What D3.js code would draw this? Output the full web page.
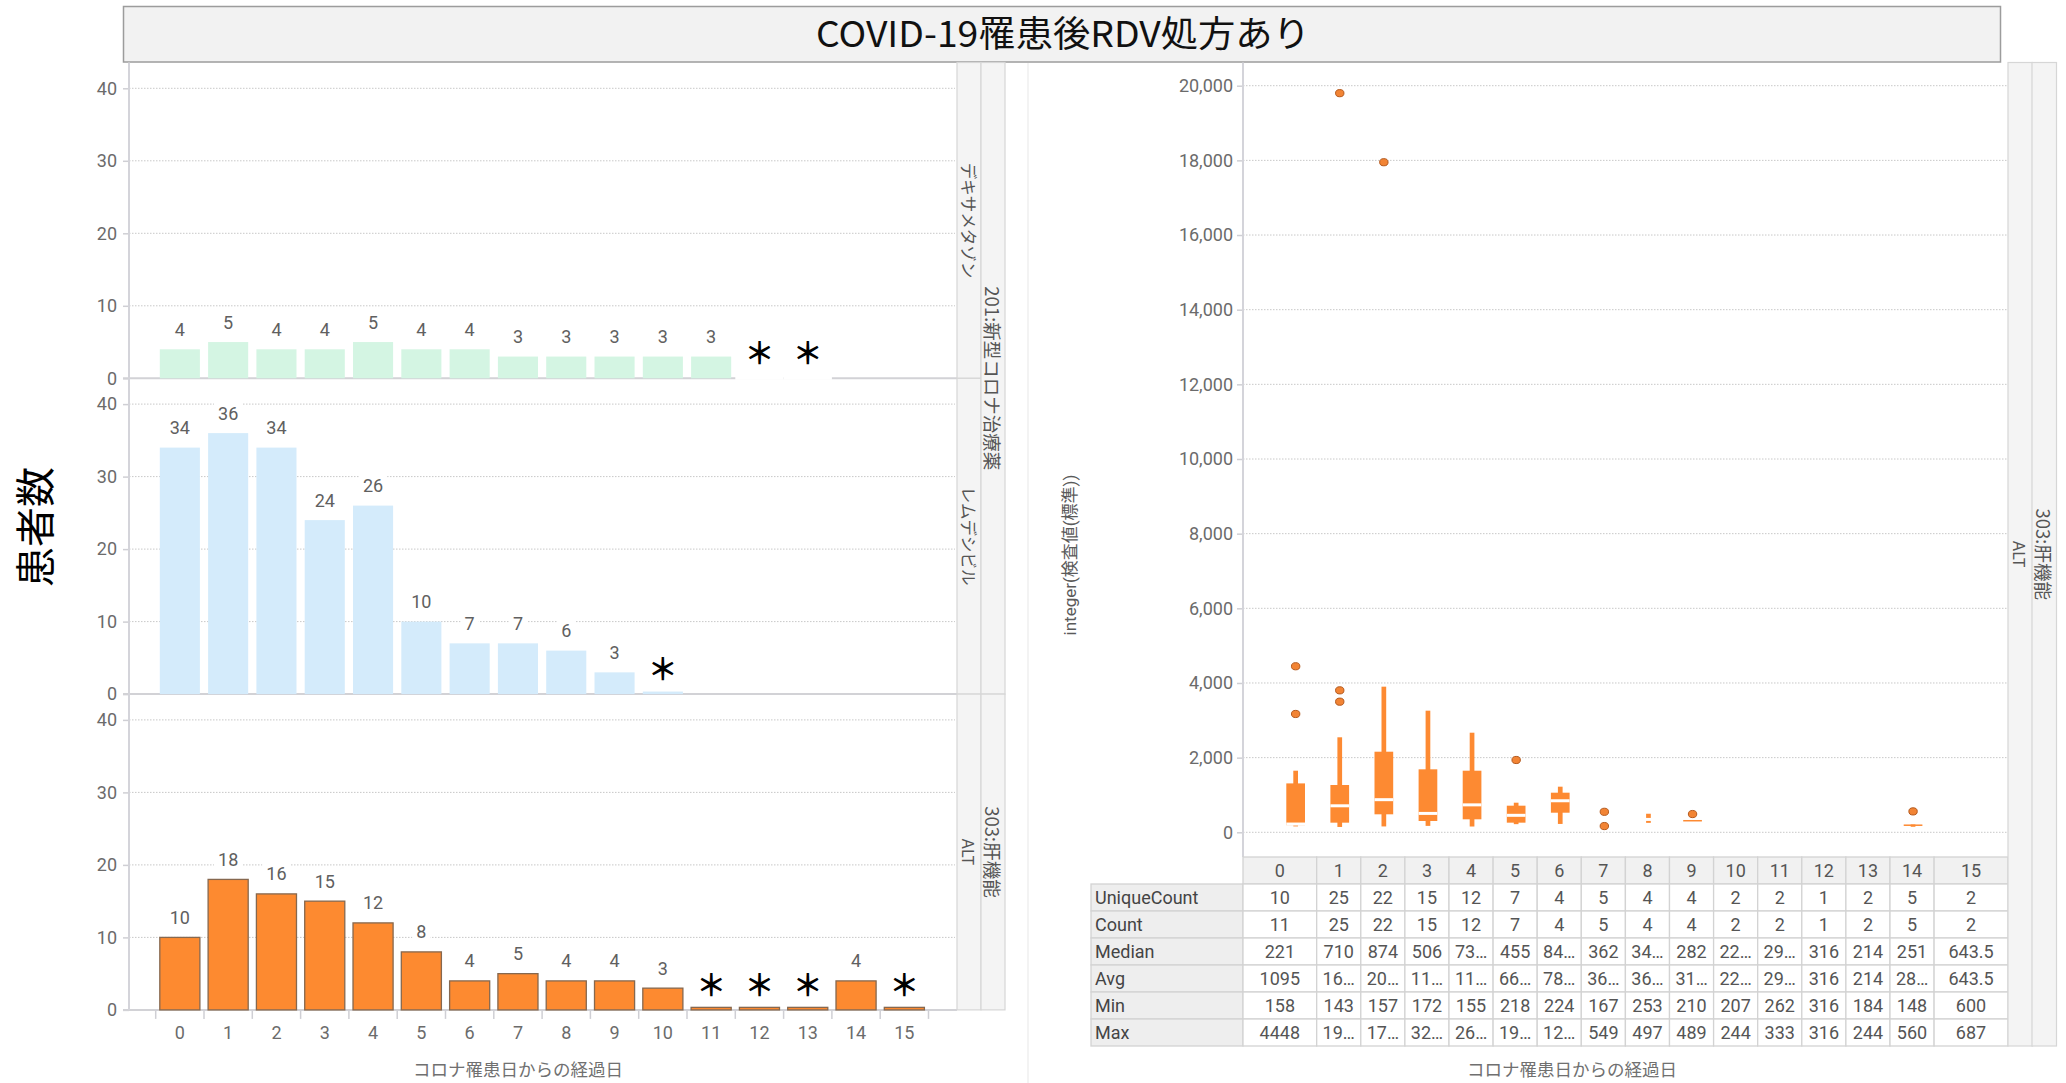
<!DOCTYPE html>
<html>
<head>
<meta charset="utf-8">
<script src="https://cdn.jsdelivr.net/npm/d3@7"></script>
<style>
  body { margin: 0; background: #fff; }
  svg { display: block; }
</style>
</head>
<body>
<script>
// ---- data ---------------------------------------------------------------
const chartTitle = "COVID-19罹患後RDV処方あり";
const dayLabels = ["0","1","2","3","4","5","6","7","8","9","10","11","12","13","14","15"];
const countTicks = [0, 10, 20, 30, 40];
const labTicks = [0, 2000, 4000, 6000, 8000, 10000, 12000, 14000, 16000, 18000, 20000];

// patients per day since infection (null = masked small count, shown as ＊)
const dexamethasonePatients = [4, 5, 4, 4, 5, 4, 4, 3, 3, 3, 3, 3, null, null];
const remdesivirPatients    = [34, 36, 34, 24, 26, 10, 7, 7, 6, 3, null];
const altPatients           = [10, 18, 16, 15, 12, 8, 4, 5, 4, 4, 3, null, null, null, 4, null];

const drugGroup = "201:新型コロナ治療薬";
const liverGroup = "303:肝機能";
const panelNames = ["デキサメタゾン", "レムデシビル", "ALT"];

// ALT box plot summary per day
const boxQ1      = [190, 258, 482, 303, 348, 258, 525, null, null, 290, null, null, null, null, 185, null];
const boxMedian  = [221, 710, 874, 506, 735, 455, 845, 362, 345, 282, 225, 295, 316, 214, 251, 643.5];
const boxQ3      = [1310, 1267, 2159, 1687, 1650, 713, 1061, null, null, 330, null, null, null, null, 210, null];
const whiskerLow = [158, 143, 157, 172, 155, 218, 224, null, 253, null, null, null, null, null, 148, null];
const whiskerHigh= [1650, 2545, 3901, 3258, 2668, 793, 1222, null, 497, null, null, null, null, null, 210, null];
const outliers   = [[3170, 4448], [3499, 3803, 19800], [17950], [], [], [1937], [], [167, 549], [], [489], [], [], [], [], [560], []];

// statistics table
const statNames   = ["UniqueCount", "Count", "Median", "Avg", "Min", "Max"];
const uniqueCounts= ["10","25","22","15","12","7","4","5","4","4","2","2","1","2","5","2"];
const counts      = ["11","25","22","15","12","7","4","5","4","4","2","2","1","2","5","2"];
const medians     = ["221","710","874","506","73…","455","84…","362","34…","282","22…","29…","316","214","251","643.5"];
const averages    = ["1095","16…","20…","11…","11…","66…","78…","36…","36…","31…","22…","29…","316","214","28…","643.5"];
const minimums    = ["158","143","157","172","155","218","224","167","253","210","207","262","316","184","148","600"];
const maximums    = ["4448","19…","17…","32…","26…","19…","12…","549","497","489","244","333","316","244","560","687"];

const yTitleLeft = "患者数";
const yTitleRight = "integer(検査値(標準))";
const xTitle = "コロナ罹患日からの経過日";

// ---- drawing ------------------------------------------------------------
const FONT = "Roboto, 'Noto Sans CJK JP', sans-serif";
const JP = "'Noto Sans CJK JP', sans-serif";
const GRID = "#c8c8c8", AXIS = "#d4d4da", TICKTXT = "#6b6b6b";

const svg = d3.select("body").append("svg")
  .attr("width", 2066).attr("height", 1083)
  .style("font-family", FONT);

// faint divider between the two halves
svg.append("line").attr("x1", 1028).attr("x2", 1028).attr("y1", 63).attr("y2", 1083)
  .attr("stroke", "#efefef").attr("stroke-width", 1.5);

// title bar
svg.append("rect").attr("x", 123.5).attr("y", 6.5).attr("width", 1877).attr("height", 55.5)
  .attr("fill", "#f2f2f2").attr("stroke", "#9c9c9c").attr("stroke-width", 1.5);
svg.append("text").attr("x", 1063).attr("y", 46.5).attr("text-anchor", "middle")
  .attr("font-family", JP).attr("font-size", 36).attr("fill", "#111")
  .attr("textLength", 494).attr("lengthAdjust", "spacingAndGlyphs")
  .text(chartTitle);

// ---------------- left: patient counts -----------------
const L = { axisX: 129, right: 955, stripIn: 957, stripOut: 981, stripW: 24, base0: 378.3, pitch: 315.8, span: 290 };
const xL = d3.scaleBand().domain(dayLabels).range([155.7, 928.5]).paddingInner(0.17).paddingOuter(0.085);
const stepL = xL.step();

const panels = [
  { values: dexamethasonePatients, name: panelNames[0], fill: "#d4f5e3", stroke: "none", stub: false },
  { values: remdesivirPatients,    name: panelNames[1], fill: "#d4ebfb", stroke: "none", stub: true },
  { values: altPatients,           name: panelNames[2], fill: "#fd8a30", stroke: "#86684f", stub: true }
];
const MASK_STUB = 0.35;

panels.forEach((p, i) => {
  const y0 = L.base0 + i * L.pitch;
  const y = d3.scaleLinear().domain([0, 40]).range([y0, y0 - L.span]);
  const g = svg.append("g");

  // dotted gridlines
  g.selectAll("line.grid").data(countTicks.filter(t => t > 0)).join("line")
    .attr("x1", L.axisX).attr("x2", L.right)
    .attr("y1", d => y(d)).attr("y2", d => y(d))
    .attr("stroke", GRID).attr("stroke-dasharray", "1.5,1.5");

  // y axis ticks + labels
  const ax = g.append("g").attr("transform", `translate(${L.axisX},0)`)
    .call(d3.axisLeft(y).tickValues(countTicks).tickSize(6).tickPadding(6));
  ax.select(".domain").remove();
  ax.selectAll(".tick line").attr("stroke", "#cfcfd4").attr("stroke-width", 1.5);
  ax.selectAll(".tick text").attr("fill", TICKTXT).attr("font-size", 18).attr("font-family", FONT);

  // baseline
  g.append("line").attr("x1", L.axisX - 6).attr("x2", L.stripIn).attr("y1", y0).attr("y2", y0)
    .attr("stroke", "#d2d2d6").attr("stroke-width", 2);

  const rows = p.values.map((v, k) => ({ day: dayLabels[k], v }));
  const bgLayer = g.append("g");
  const barLayer = g.append("g");
  const txtLayer = g.append("g");

  barLayer.selectAll("rect").data(rows.filter(d => d.v !== null || p.stub)).join("rect")
    .attr("x", d => xL(d.day)).attr("width", xL.bandwidth())
    .attr("y", d => y(d.v === null ? MASK_STUB : d.v))
    .attr("height", d => y0 - y(d.v === null ? MASK_STUB : d.v))
    .attr("fill", p.fill)
    .attr("stroke", p.stroke).attr("stroke-width", p.stroke === "none" ? 0 : 1.3);

  rows.forEach(d => {
    const cx = xL(d.day) + xL.bandwidth() / 2;
    let t;
    if (d.v !== null) {
      t = txtLayer.append("text").attr("x", cx).attr("y", y(d.v) - 13.5)
        .attr("text-anchor", "middle").attr("font-size", 18).attr("fill", "#606060")
        .text(d.v);
    } else {
      t = txtLayer.append("text").attr("x", cx).attr("y", y0 - 27)
        .attr("text-anchor", "middle").attr("dominant-baseline", "central")
        .attr("font-family", JP).attr("font-size", 30).attr("font-weight", 700).attr("fill", "#000")
        .text("＊");
    }
    const b = t.node().getBBox();
    if (d.v === null && !p.stub) {
      const bx = xL(d.day) - stepL * 0.085;
      bgLayer.append("rect").attr("x", bx).attr("width", stepL)
        .attr("y", b.y - 2).attr("height", y0 + 1.5 - (b.y - 2)).attr("fill", "#fff");
    } else {
      bgLayer.append("rect").attr("x", b.x - 4).attr("y", b.y - 2)
        .attr("width", b.width + 8).attr("height", b.height + 4).attr("fill", "#fff");
    }
  });

  // inner strip
  const top = y0 - L.pitch;
  svg.append("rect").attr("x", L.stripIn).attr("y", top).attr("width", L.stripW).attr("height", L.pitch)
    .attr("fill", "#f4f4f4").attr("stroke", "#d6d6d6").attr("stroke-width", 1.2);
  svg.append("text").attr("transform", `translate(${L.stripIn + L.stripW / 2},${top + L.pitch / 2}) rotate(90)`)
    .attr("text-anchor", "middle").attr("dominant-baseline", "central")
    .attr("font-family", JP).attr("font-size", 16.5).attr("fill", "#555").text(p.name);
});

// outer strips
const outerStrips = [
  { label: drugGroup, from: 0, to: 2 },
  { label: liverGroup, from: 2, to: 3 }
];
outerStrips.forEach(s => {
  const y1 = L.base0 - L.pitch + s.from * L.pitch, h = (s.to - s.from) * L.pitch;
  svg.append("rect").attr("x", L.stripOut).attr("y", y1).attr("width", L.stripW).attr("height", h)
    .attr("fill", "#f4f4f4").attr("stroke", "#d6d6d6").attr("stroke-width", 1.2);
  svg.append("text").attr("transform", `translate(${L.stripOut + L.stripW / 2},${y1 + h / 2}) rotate(90)`)
    .attr("text-anchor", "middle").attr("dominant-baseline", "central")
    .attr("font-family", JP).attr("font-size", 18.5).attr("fill", "#555").text(s.label);
});

// left y axis line
const baseBottom = L.base0 + 2 * L.pitch;
svg.append("line").attr("x1", L.axisX).attr("x2", L.axisX).attr("y1", 62.5).attr("y2", baseBottom)
  .attr("stroke", AXIS).attr("stroke-width", 2);

// bottom x axis: boundary ticks and centred labels
svg.append("g").selectAll("line").data(d3.range(dayLabels.length + 1)).join("line")
  .attr("x1", i => xL.range()[0] + i * stepL).attr("x2", i => xL.range()[0] + i * stepL)
  .attr("y1", baseBottom).attr("y2", baseBottom + 9)
  .attr("stroke", "#cfcfd4").attr("stroke-width", 1.5);
const xAx = svg.append("g").attr("transform", `translate(0,${baseBottom})`)
  .call(d3.axisBottom(xL).tickSize(0).tickPadding(16));
xAx.select(".domain").remove();
xAx.selectAll(".tick text").attr("fill", TICKTXT).attr("font-size", 18).attr("font-family", FONT);

svg.append("text").attr("x", 518).attr("y", 1068).attr("text-anchor", "middle")
  .attr("dominant-baseline", "central").attr("font-family", JP).attr("font-size", 17.5)
  .attr("fill", "#707070").text(xTitle);

svg.append("text").attr("transform", "translate(33,527) rotate(-90)")
  .attr("text-anchor", "middle").attr("dominant-baseline", "central")
  .attr("font-family", JP).attr("font-size", 40).attr("fill", "#000").text(yTitleLeft);

// ---------------- right: ALT box plots -----------------
const R = { axisX: 1243, right: 2008, top: 62.5, bottom: 857, stripIn: 2008, stripOut: 2032, stripW: 24.5, tableBottom: 1046 };
const yR = d3.scaleLinear().domain([0, 20000]).range([832.3, 85.7]);
const xR = d3.scaleBand().domain(dayLabels).range([1273.6, 1979.2]).padding(0);
const cxR = d => xR(d) + xR.bandwidth() / 2;

svg.append("g").selectAll("line").data(labTicks).join("line")
  .attr("x1", R.axisX).attr("x2", R.right)
  .attr("y1", d => yR(d)).attr("y2", d => yR(d))
  .attr("stroke", GRID).attr("stroke-dasharray", "1.5,1.5");

const axR = svg.append("g").attr("transform", `translate(${R.axisX},0)`)
  .call(d3.axisLeft(yR).tickValues(labTicks).tickFormat(d3.format(",")).tickSize(6).tickPadding(4));
axR.select(".domain").remove();
axR.selectAll(".tick line").attr("stroke", "#cfcfd4").attr("stroke-width", 1.5);
axR.selectAll(".tick text").attr("fill", TICKTXT).attr("font-size", 18).attr("font-family", FONT);

svg.append("line").attr("x1", R.axisX).attr("x2", R.axisX).attr("y1", R.top).attr("y2", R.bottom)
  .attr("stroke", AXIS).attr("stroke-width", 2);

const BOX_W = 18.7, WHISK_W = 4.7, ORANGE = "#fd8a32";
const boxLayer = svg.append("g");
dayLabels.forEach((d, i) => {
  const cx = cxR(d);
  if (whiskerLow[i] !== null && whiskerHigh[i] !== null) {
    boxLayer.append("rect").attr("x", cx - WHISK_W / 2).attr("width", WHISK_W)
      .attr("y", yR(whiskerHigh[i])).attr("height", Math.max(1, yR(whiskerLow[i]) - yR(whiskerHigh[i])))
      .attr("fill", ORANGE);
  }
  if (boxQ1[i] !== null && boxQ3[i] !== null) {
    boxLayer.append("rect").attr("x", cx - BOX_W / 2).attr("width", BOX_W)
      .attr("y", yR(boxQ3[i])).attr("height", Math.max(1.5, yR(boxQ1[i]) - yR(boxQ3[i])))
      .attr("fill", ORANGE);
  }
  const spanLo = boxQ1[i] !== null ? boxQ1[i] : whiskerLow[i];
  const spanHi = boxQ3[i] !== null ? boxQ3[i] : whiskerHigh[i];
  if (spanLo !== null && spanHi !== null && yR(spanLo) - yR(spanHi) > 6) {
    boxLayer.append("rect").attr("x", cx - BOX_W / 2).attr("width", BOX_W)
      .attr("y", yR(boxMedian[i]) - 1.5).attr("height", 3).attr("fill", "#fff");
  }
  outliers[i].forEach(v => {
    boxLayer.append("ellipse").attr("cx", cx).attr("cy", yR(v)).attr("rx", 4.2).attr("ry", 3.6)
      .attr("fill", "#f28434").attr("stroke", "#b4591d").attr("stroke-width", 1);
  });
});

// statistics table under the plot
const colW = dayLabels.map((d, i) => (i === 0 ? 73.7 : i === dayLabels.length - 1 ? 73.9 : 44.1));
const colX = [];
colW.reduce((acc, w) => { colX.push(acc); return acc + w; }, R.axisX);
const rowH = 27, headTop = 857, labelX0 = 1091;
const statValues = [uniqueCounts, counts, medians, averages, minimums, maximums];
const tbl = svg.append("g").attr("font-size", 18);
// header row
dayLabels.forEach((d, i) => {
  tbl.append("rect").attr("x", colX[i]).attr("y", headTop).attr("width", colW[i]).attr("height", rowH)
    .attr("fill", "#f1f1f1").attr("stroke", "#d3d3d3").attr("stroke-width", 1.3);
  tbl.append("text").attr("x", colX[i] + colW[i] / 2).attr("y", headTop + rowH / 2)
    .attr("text-anchor", "middle").attr("dominant-baseline", "central").attr("fill", "#555").text(d);
});
statNames.forEach((name, r) => {
  const ry = headTop + rowH * (r + 1);
  tbl.append("rect").attr("x", labelX0).attr("y", ry).attr("width", R.axisX - labelX0).attr("height", rowH)
    .attr("fill", "#eeeeee").attr("stroke", "#d3d3d3").attr("stroke-width", 1.3);
  tbl.append("text").attr("x", labelX0 + 4).attr("y", ry + rowH / 2)
    .attr("dominant-baseline", "central").attr("fill", "#444").text(name);
  statValues[r].forEach((v, i) => {
    tbl.append("rect").attr("x", colX[i]).attr("y", ry).attr("width", colW[i]).attr("height", rowH)
      .attr("fill", "#fff").attr("stroke", "#d3d3d3").attr("stroke-width", 1.3);
    tbl.append("text").attr("x", colX[i] + colW[i] / 2).attr("y", ry + rowH / 2)
      .attr("text-anchor", "middle").attr("dominant-baseline", "central").attr("fill", "#555").text(v);
  });
});

// right strips
[[R.stripIn, panelNames[2]], [R.stripOut, liverGroup]].forEach(([sx, label], k) => {
  svg.append("rect").attr("x", sx).attr("y", R.top).attr("width", R.stripW).attr("height", R.tableBottom - R.top)
    .attr("fill", "#f4f4f4").attr("stroke", "#d6d6d6").attr("stroke-width", 1.2);
  svg.append("text").attr("transform", `translate(${sx + R.stripW / 2},${(R.top + R.tableBottom) / 2}) rotate(90)`)
    .attr("text-anchor", "middle").attr("dominant-baseline", "central")
    .attr("font-family", JP).attr("font-size", k === 0 ? 16.5 : 18.5).attr("fill", "#555").text(label);
});

svg.append("text").attr("transform", "translate(1070,555) rotate(-90)")
  .attr("text-anchor", "middle").attr("dominant-baseline", "central")
  .attr("font-size", 17).attr("fill", "#5a5a5a").text(yTitleRight);

svg.append("text").attr("x", 1572).attr("y", 1068).attr("text-anchor", "middle")
  .attr("dominant-baseline", "central").attr("font-family", JP).attr("font-size", 17.5)
  .attr("fill", "#707070").text(xTitle);
</script>
</body>
</html>
